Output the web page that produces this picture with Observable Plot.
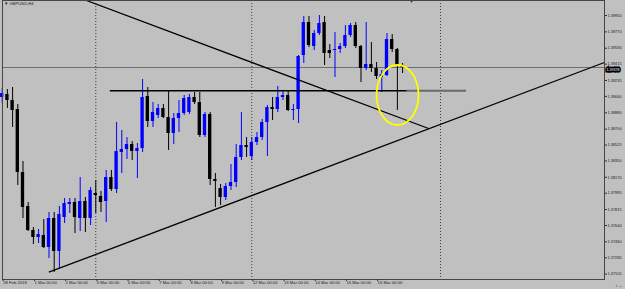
<!DOCTYPE html>
<html>
<head>
<meta charset="utf-8">
<script src="https://cdn.jsdelivr.net/npm/d3@7"></script>
<script src="https://cdn.jsdelivr.net/npm/@observablehq/plot@0.6"></script>
<style>
  html, body { margin: 0; padding: 0; background: #c0c0c0; }
  #chart svg { display: block; }
</style>
</head>
<body>
<div id="chart"></div>
<script>
// ---- Data (GBPUSD, H4 candles, index 0 = 28 Feb 2018 00:00) ----
const opens = [1.39048,1.39081,1.39015,1.38916,1.38223,1.37849,1.37585,1.37508,1.37530,1.37398,
1.37717,1.37354,1.37728,1.37871,1.37893,1.37717,1.37904,1.37717,1.37992,1.37959,
1.37904,1.38168,1.38036,1.38443,1.38476,1.38531,1.38454,1.38487,1.39059,1.38784,
1.38850,1.38927,1.38828,1.38652,1.38817,1.38872,1.38883,1.39048,1.38993,1.38630,
1.38861,1.38146,1.38047,1.37948,1.38069,1.38113,1.38388,1.38520,1.38399,1.38553,
1.38608,1.38773,1.38938,1.38916,1.39048,1.39070,1.38905,1.38916,1.39510,1.39873,
1.39609,1.39752,1.39873,1.39565,1.39565,1.39576,1.39609,1.39730,1.39840,1.39609,
1.39367,1.39411,1.39367,1.39268,1.39290,1.39686,1.39576,1.39400];
const highs = [1.39147,1.39136,1.39158,1.38971,1.38344,1.37893,1.37618,1.37596,1.37706,1.37783,
1.37783,1.37849,1.37937,1.37937,1.37937,1.38168,1.37948,1.38058,1.38135,1.38014,
1.38245,1.38245,1.38773,1.38685,1.38608,1.38564,1.38542,1.39246,1.39158,1.38993,
1.38971,1.38971,1.39114,1.38872,1.39015,1.39070,1.39081,1.39103,1.39103,1.38883,
1.38883,1.38212,1.38091,1.38102,1.38311,1.38531,1.38883,1.38608,1.38608,1.38663,
1.38806,1.38960,1.39048,1.39169,1.39125,1.39125,1.38971,1.39510,1.39939,1.39939,
1.39785,1.39950,1.39939,1.39631,1.39763,1.39642,1.39840,1.39862,1.39873,1.39620,
1.39873,1.39653,1.39433,1.39345,1.39752,1.39741,1.39587,1.39422];
const lows = [1.38982,1.38927,1.38718,1.38080,1.37717,1.37574,1.37431,1.37442,1.37387,1.37277,
1.37123,1.37167,1.37662,1.37772,1.37552,1.37574,1.37563,1.37640,1.37772,1.37783,
1.37673,1.38014,1.37992,1.38212,1.38366,1.38355,1.38157,1.38443,1.38718,1.38718,
1.38817,1.38817,1.38465,1.38531,1.38663,1.38850,1.38861,1.38971,1.38608,1.38608,
1.38080,1.37838,1.37860,1.37915,1.38025,1.38058,1.38355,1.38388,1.38355,1.38520,
1.38575,1.38399,1.38795,1.38883,1.39015,1.38894,1.38795,1.38762,1.39422,1.39598,
1.39565,1.39730,1.39400,1.39477,1.39268,1.39532,1.39587,1.39708,1.39587,1.39213,
1.39345,1.39323,1.39246,1.39103,1.39279,1.39543,1.38905,1.39312];
const closes = [1.39092,1.39015,1.38905,1.38223,1.37838,1.37585,1.37508,1.37541,1.37398,1.37717,
1.37354,1.37761,1.37882,1.37893,1.37728,1.37904,1.37717,1.38025,1.37970,1.37893,
1.38168,1.38036,1.38454,1.38476,1.38531,1.38454,1.38487,1.39048,1.38784,1.38883,
1.38927,1.38828,1.38652,1.38817,1.38872,1.39037,1.39048,1.38993,1.38630,1.38861,
1.38146,1.38124,1.37948,1.38069,1.38113,1.38388,1.38520,1.38498,1.38553,1.38608,
1.38773,1.38938,1.38916,1.39048,1.39070,1.38905,1.38916,1.39499,1.39873,1.39620,
1.39752,1.39862,1.39532,1.39532,1.39576,1.39609,1.39730,1.39840,1.39609,1.39367,
1.39411,1.39367,1.39279,1.39301,1.39686,1.39576,1.39400,1.39378];

// Axis ticks
const yTicks = [1.39950,1.39770,1.39590,1.39415,1.39235,1.39060,1.38880,1.38700,1.38525,
1.38350,1.38170,1.37995,1.37815,1.37640,1.37460,1.37285,1.37105];
const xTickIdx = [0,6,12,18,24,30,36,42,48,54,60,66,72];
const xTickLabels = ["28 Feb 2018","1 Mar 00:00","2 Mar 00:00","5 Mar 00:00","6 Mar 00:00",
"7 Mar 00:00","8 Mar 00:00","9 Mar 00:00","12 Mar 00:00","13 Mar 00:00","14 Mar 00:00",
"15 Mar 00:00","16 Mar 00:00"];

// Drawn objects (in candle-index / price units)
const separators = [18, 48, 84.3];
const downTrendX = [16.2, 82.0];
const downTrendY = [1.40115, 1.38707];
const upTrendX = [8.96, 115.8];
const upTrendY = [1.37126, 1.39433];
const hLevel = 1.39122;
const hLevelX = [20.8, 77.9];
const hLevelExtX = [77.9, 89.3];
const circleCenter = {i: 76.12, p: 1.39070};
const shiftMarker = 78.7;

// ---- Build ----
const candles = opens.map((o, i) => ({i, o, h: highs[i], l: lows[i], c: closes[i]}));
const BULL = "#0000ff", BEAR = "#000000";
const col = d => d.c >= d.o ? BULL : BEAR;
const labelMap = new Map(xTickIdx.map((k, j) => [k, xTickLabels[j]]));
const lastClose = closes[closes.length - 1];

const plot = Plot.plot({
  width: 625,
  height: 289,
  marginLeft: 2,
  marginRight: 21,
  marginTop: 0,
  marginBottom: 10,
  style: {background: "#c0c0c0", fontFamily: "'Liberation Sans', Arial, sans-serif", color: "#1a1a1a"},
  x: {domain: [0.058, 115.83], axis: null},
  y: {domain: [1.37046, 1.40115], axis: null},
  color: {type: "identity"},
  marks: [
    Plot.ruleX(separators, {stroke: "#3a3a3a", strokeDasharray: "1,2", strokeWidth: 1}),
    Plot.ruleY([lastClose], {stroke: "#6e6e6e", strokeWidth: 1}),
    Plot.ruleX(candles, {x: "i", y1: "l", y2: "h", stroke: col, strokeWidth: 1}),
    Plot.rect(candles, {x1: d => d.i - 0.32, x2: d => d.i + 0.32, y1: "o", y2: "c", fill: col}),
    Plot.link([0], {x1: () => downTrendX[0], x2: () => downTrendX[1], y1: () => downTrendY[0], y2: () => downTrendY[1], stroke: "#000", strokeWidth: 1.3}),
    Plot.link([0], {x1: () => upTrendX[0], x2: () => upTrendX[1], y1: () => upTrendY[0], y2: () => upTrendY[1], stroke: "#000", strokeWidth: 1.3}),
    Plot.ruleY([hLevel], {x1: hLevelX[0], x2: hLevelX[1], stroke: "#000", strokeWidth: 1.4}),
    Plot.ruleY([hLevel], {x1: hLevelExtX[0], x2: hLevelExtX[1], stroke: "#6a6a6a", strokeWidth: 1.8}),
    Plot.frame({stroke: "#454545"}),
    Plot.axisY(yTicks, {anchor: "right", tickSize: 2, tickPadding: 1, fontSize: 3.9, tickFormat: d => d.toFixed(5), stroke: "#333", fill: "#1a1a1a"}),
    Plot.axisX(xTickIdx, {anchor: "bottom", tickSize: 2, tickPadding: 0, fontSize: 4.2, textAnchor: "start", dx: 1, tickFormat: d => labelMap.get(d), stroke: "#333", fill: "#1a1a1a"}),
    Plot.text([lastClose], {y: d => d, text: d => d.toFixed(5), frameAnchor: "right", textAnchor: "start", dx: 2, dy: 2, fontSize: 3.6, fill: "#ffffff", stroke: "#000", strokeWidth: 3, strokeLinejoin: "miter"}),
    Plot.text(["GBPUSD,H4"], {frameAnchor: "top-left", dx: 7, dy: 2, textAnchor: "start", lineAnchor: "top", fontSize: 4.2, fill: "#1a1a1a"}),
    Plot.text(["▾"], {frameAnchor: "top-left", dx: 2, dy: 1.5, textAnchor: "start", lineAnchor: "top", fontSize: 4.5, fill: "#1a1a1a"}),
    Plot.text([shiftMarker], {x: d => d, frameAnchor: "top", text: () => "▼", lineAnchor: "top", dy: 0, fontSize: 3.5, fill: "#333"})
  ]
});

// yellow circle annotation placed through the plot's own scales
const xs = plot.scale("x"), ys = plot.scale("y");
d3.select(plot).append("ellipse")
  .attr("cx", xs.apply(circleCenter.i))
  .attr("cy", ys.apply(circleCenter.p))
  .attr("rx", 21)
  .attr("ry", 30)
  .attr("fill", "none")
  .attr("stroke", "#ffff00")
  .attr("stroke-width", 1.8);

document.getElementById("chart").appendChild(plot);
</script>
</body>
</html>
